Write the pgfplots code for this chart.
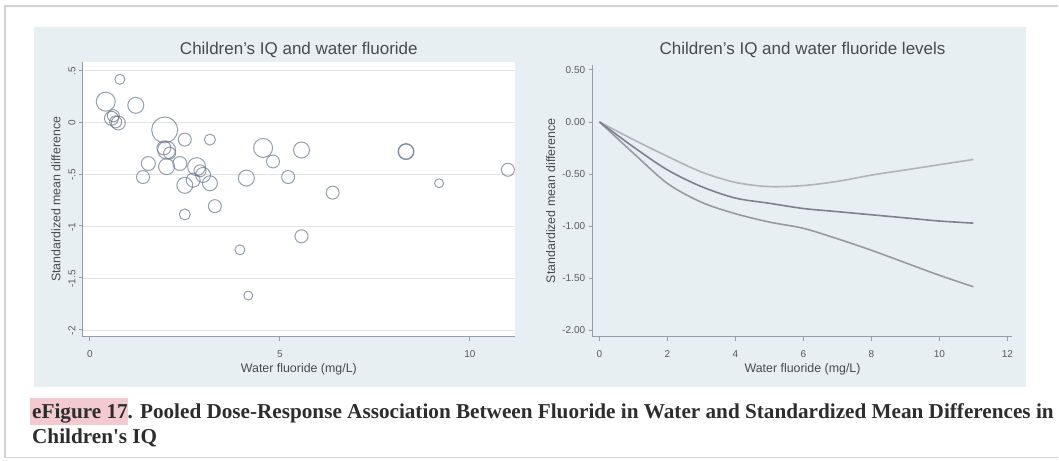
\documentclass[border=0pt]{standalone}
\usepackage{pgfplots}
\pgfplotsset{compat=1.18}
\usepackage{fontspec}
\setmainfont{Liberation Sans}
\newfontfamily\capfont{Liberation Serif}
\definecolor{bgc}{RGB}{232,239,242}
\definecolor{circ}{RGB}{105,118,138}
\definecolor{tickc}{RGB}{85,90,95}
\definecolor{axc}{RGB}{150,158,165}
\definecolor{titc}{RGB}{70,75,80}
\definecolor{pinkhl}{RGB}{242,202,207}
\definecolor{lup}{RGB}{175,180,185}
\definecolor{lmid}{RGB}{125,130,136}
\definecolor{llow}{RGB}{150,155,160}

\pgfplotstableread{
x y r
0.79 0.41 5
0.42 0.195 9.5
1.21 0.16 8
0.57 0.035 7
0.75 -0.01 7
0.68 0.00 6
0.62 0.06 6
1.97 -0.077 13
2.50 -0.17 6.5
3.16 -0.17 5.5
2.02 -0.27 9
1.95 -0.25 7
2.10 -0.30 6
1.54 -0.40 7
1.40 -0.53 6.5
2.02 -0.43 8
2.37 -0.40 7
2.81 -0.43 9
2.98 -0.51 7.5
2.90 -0.47 6
2.50 -0.61 8
3.16 -0.59 7.5
2.72 -0.56 7
3.29 -0.81 6.5
2.50 -0.89 5.5
4.12 -0.54 8
4.56 -0.25 9.5
4.82 -0.38 6.5
5.57 -0.27 8
5.22 -0.53 6.5
6.39 -0.68 6.5
3.95 -1.23 5
5.57 -1.10 6.5
4.17 -1.67 4.5
8.32 -0.285 8
8.32 -0.285 7.5
9.19 -0.59 4.5
11.00 -0.46 6.5
}\scatterdata

\pgfplotstableread{
x up mid low
0 0 0 0
1 -0.17 -0.24 -0.30
2 -0.33 -0.46 -0.59
3 -0.48 -0.62 -0.77
4 -0.58 -0.73 -0.88
5 -0.62 -0.78 -0.96
6 -0.61 -0.83 -1.02
7 -0.57 -0.86 -1.12
8 -0.51 -0.89 -1.23
9 -0.46 -0.92 -1.35
10 -0.41 -0.95 -1.47
11 -0.36 -0.97 -1.58
}\curvedata

\pgfplotsset{
  statastyle/.style={
    scale only axis,
    anchor=south west,
    axis lines=left,
    every outer x axis line/.append style={-},
    every outer y axis line/.append style={-},
    axis line style={axc, line width=1pt},
    tick align=outside,
    major tick length=4pt,
    tick style={axc, line width=0.8pt},
    ticklabel style={font=\fontsize{10}{12}\selectfont, text=tickc},
    xticklabel style={yshift=-6pt},
    title style={at={(axis description cs:0.5,1)}, anchor=center, font=\fontsize{17}{20}\selectfont, text=titc},
    xlabel style={at={(axis description cs:0.5,0)}, anchor=center, yshift=-33pt, font=\fontsize{12.4}{14}\selectfont, text=titc},
    ylabel style={anchor=center, font=\fontsize{12.4}{14}\selectfont, text=titc},
    xlabel={Water fluoride (mg/L)},
    ylabel={Standardized mean difference},
  }
}

\begin{document}
\begin{tikzpicture}[x=1pt,y=1pt]
\path[fill=white] (0,0) rectangle (1059,461);
\draw[gray!35, line width=1.2pt] (1059,3) -- (5,3) -- (5,455) -- (1059,455);
\fill[bgc] (34,74) rectangle (1027,434);

\begin{axis}[statastyle,
  at={(83pt,124pt)}, width=432pt, height=275pt,
  xmin=-0.18, xmax=11.18, ymin=-2.067, ymax=0.577,
  axis background/.style={fill=white},
  ymajorgrids, major grid style={gray!22, line width=0.6pt},
  xtick={0,5,10}, xticklabels={0,5,10},
  ytick={-2,-1.5,-1,-0.5,0,0.5},
  yticklabels={-2,-1.5,-1,-.5,0,.5},
  yticklabel style={rotate=90, anchor=south, xshift=-1pt},
  title={Children's IQ and water fluoride},
  title style={yshift=6pt},
  ylabel style={at={(axis description cs:-0.0625,0.5)}},
]
\addplot[only marks, mark=o, line width=1pt,
  scatter, scatter/use mapped color={draw=circ, draw opacity=0.7},
  visualization depends on={\thisrow{r} \as \rr},
  scatter/@pre marker code/.append style={/tikz/mark size=\rr}]
  table[x=x, y=y] {\scatterdata};
\end{axis}

\begin{axis}[statastyle,
  at={(593pt,124pt)}, width=420pt, height=272.4pt,
  xmin=-0.2, xmax=12.15, ymin=-2.06, ymax=0.55,
  xtick={0,2,4,6,8,10,12}, xticklabels={0,2,4,6,8,10,12},
  ytick={-2,-1.5,-1,-0.5,0,0.5},
  yticklabels={-2.00,-1.50,-1.00,-0.50,0.00,0.50},
  title={Children's IQ and water fluoride levels},
  title style={yshift=8.6pt},
  ylabel style={at={(axis description cs:-0.1,0.5)}},
]
\addplot[lup, line width=1.6pt, smooth] table[x=x, y=up] {\curvedata};
\addplot[llow, line width=1.6pt, smooth] table[x=x, y=low] {\curvedata};
\addplot[lmid, line width=1.6pt, smooth] table[x=x, y=mid] {\curvedata};
\end{axis}

\fill[pinkhl] (30,36) rectangle (128,63);
\node[anchor=base west, inner sep=0pt, text={rgb,255:red,45;green,45;blue,45}] at (32,42)
  {\capfont\bfseries\fontsize{21.2}{24}\selectfont eFigure 17. Pooled Dose-Response Association Between Fluoride in Water and Standardized Mean Differences in};
\node[anchor=base west, inner sep=0pt, text={rgb,255:red,45;green,45;blue,45}] at (32,17)
  {\capfont\bfseries\fontsize{21.2}{24}\selectfont Children's IQ};
\end{tikzpicture}
\end{document}
